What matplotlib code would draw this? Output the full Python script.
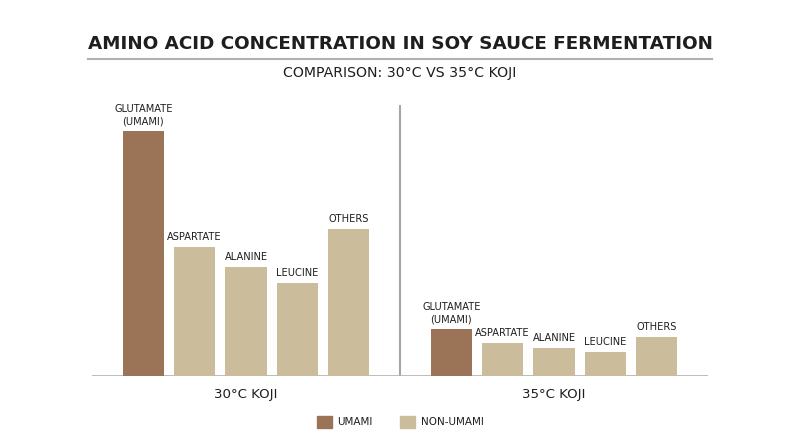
import matplotlib
matplotlib.use("Agg")
import matplotlib.pyplot as plt
from matplotlib.patches import Patch

# values (arbitrary concentration units)
amino_acids = ["GLUTAMATE\n(UMAMI)", "ASPARTATE", "ALANINE", "LEUCINE", "OTHERS"]
groups = ["30°C KOJI", "35°C KOJI"]
koji_30 = [12.5, 6.6, 5.55, 4.75, 7.5]
koji_35 = [2.4, 1.68, 1.43, 1.22, 1.99]
is_umami = [True, False, False, False, False]

UMAMI = "#9b7356"
NON_UMAMI = "#cbbd9c"
TEXT = "#1e1e1e"

plt.rcParams["font.family"] = ["DejaVu Sans"]

fig = plt.figure(figsize=(8, 4.47), dpi=100)
W, H = 800, 447
# axes placed in pixel terms: left 92, right 708, top 105, bottom 376
ax = fig.add_axes([92 / W, 1 - 376 / H, (708 - 92) / W, (376 - 105) / H])

n = len(amino_acids)
for g, values in enumerate([koji_30, koji_35]):
    xs = [g * (n + 1) + i for i in range(n)]
    colors = [UMAMI if u else NON_UMAMI for u in is_umami]
    ax.bar(xs, values, width=0.8, color=colors, zorder=2)
    for x, v, name in zip(xs, values, amino_acids):
        ax.annotate(name, (x, v), xytext=(0, 3.5), textcoords="offset points",
                    ha="center", va="bottom", fontsize=7.1, color=TEXT,
                    linespacing=1.25)
    ax.text(g * (n + 1) + (n - 1) / 2, -0.6, groups[g], ha="center", va="top",
            fontsize=9.6, color=TEXT)

ax.set_xlim(-1, 2 * n + 1)
ax.set_ylim(0, 13.84)
ax.axvline(n, color="#a6a6a6", lw=1.5, zorder=1)
ax.axhline(0, color="#b5b5b5", lw=2, zorder=1)
for s in ax.spines.values():
    s.set_visible(False)
ax.set_xticks([])
ax.set_yticks([])

fig.text(0.5, 1 - 44 / H, "AMINO ACID CONCENTRATION IN SOY SAUCE FERMENTATION",
         ha="center", va="center", fontsize=13.2, fontweight="bold", color=TEXT)
fig.add_artist(plt.Line2D([88 / W, 712 / W], [1 - 59 / H, 1 - 59 / H],
                          color="#b0b0b0", lw=1.5))
fig.text(0.5, 1 - 73 / H, "COMPARISON: 30°C VS 35°C KOJI",
         ha="center", va="center", fontsize=10.2, color=TEXT)

handles = [Patch(color=UMAMI, label="UMAMI"), Patch(color=NON_UMAMI, label="NON-UMAMI")]
leg = fig.legend(handles=handles, loc="center", bbox_to_anchor=(0.5, 1 - 422 / H),
                 ncol=2, frameon=False, fontsize=7.5, handlelength=1.45,
                 handleheight=1.45, columnspacing=2.7, handletextpad=0.5)
for t in leg.get_texts():
    t.set_color(TEXT)

fig.savefig("out.png", dpi=100, facecolor="white")
